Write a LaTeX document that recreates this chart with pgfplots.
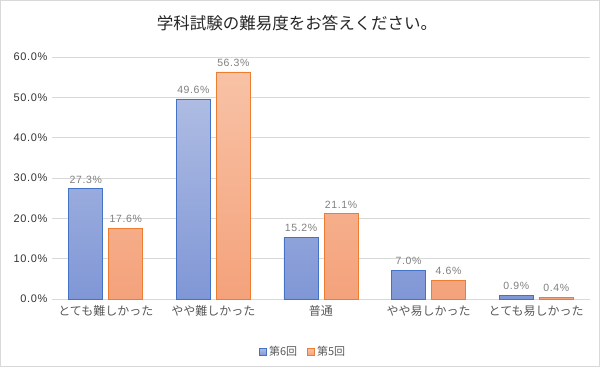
\documentclass[border=0pt]{standalone}
\usepackage{pgfplots}
\pgfplotsset{compat=1.18}
\usepackage{fontspec}
\setmainfont{Liberation Sans}
\newfontfamily\numf[LetterSpace=6]{Liberation Sans}
\newfontfamily\jp{Noto Sans CJK JP}
\definecolor{bblue}{HTML}{4472C4}
\definecolor{btop}{HTML}{AEBCE3}
\definecolor{bbot}{HTML}{8097D6}
\definecolor{oor}{HTML}{ED7D31}
\definecolor{otop}{HTML}{F8C2A6}
\definecolor{obot}{HTML}{F4A27B}
\definecolor{gridc}{HTML}{D9D9D9}
\definecolor{txt}{HTML}{595959}
\definecolor{lab}{HTML}{7F7F7F}
\begin{document}
\begin{tikzpicture}
\path[use as bounding box] (0,0) rectangle (600pt,367pt);
\draw[gridc] (0.5pt,0.5pt) rectangle (599.5pt,366.5pt);
\node[font=\jp\fontsize{16.5}{18}\selectfont, text=black!85] at (297pt,344pt) {学科試験の難易度をお答えください。};
\begin{axis}[
  at={(52pt,68pt)}, anchor=south west,
  scale only axis, width=538pt, height=242pt,
  ymin=0, ymax=60, ytick={0,10,...,60},
  xmin=-0.5, xmax=4.5, xtick={0,1,2,3,4},
  xticklabels={とても難しかった,やや難しかった,普通,やや易しかった,とても易しかった},
  x tick label style={font=\jp\fontsize{12}{14}\selectfont, text=txt, yshift=-3pt},
  y tick label style={font=\numf\fontsize{11}{12}\selectfont, text=black!80, xshift=-1pt},
  /pgf/number format/assume math mode=true,
  yticklabel={\pgfmathprintnumber[fixed,fixed zerofill,precision=1]{\tick}\%},
  major tick length=0pt,
  axis line style={draw=none},
  ymajorgrids, grid style={gridc, line width=0.7pt},
  ybar=6pt, bar width=34pt,
  nodes near coords={\pgfmathprintnumber[fixed,fixed zerofill,precision=1]{\pgfplotspointmeta}\%},
  nodes near coords style={font=\numf\fontsize{10.5}{12}\selectfont, text=lab, yshift=2pt},
  legend style={at={(0.467,-0.219)}, anchor=center, draw=none, legend columns=-1,
    font=\jp\fontsize{11}{13}\selectfont, text=txt,
    /tikz/every even column/.append style={column sep=8pt}},
  legend image code/.code={\draw[#1] (0pt,-3.5pt) rectangle (7pt,3.5pt);},
  clip=false,
]
\addplot[draw=bblue, line width=0.8pt, top color=btop, bottom color=bbot] coordinates {(0,27.3) (1,49.6) (2,15.2) (3,7.0) (4,0.9)};
\addplot[draw=oor, line width=0.8pt, top color=otop, bottom color=obot] coordinates {(0,17.6) (1,56.3) (2,21.1) (3,4.6) (4,0.4)};
\legend{第6回,第5回}
\end{axis}
\end{tikzpicture}
\end{document}
